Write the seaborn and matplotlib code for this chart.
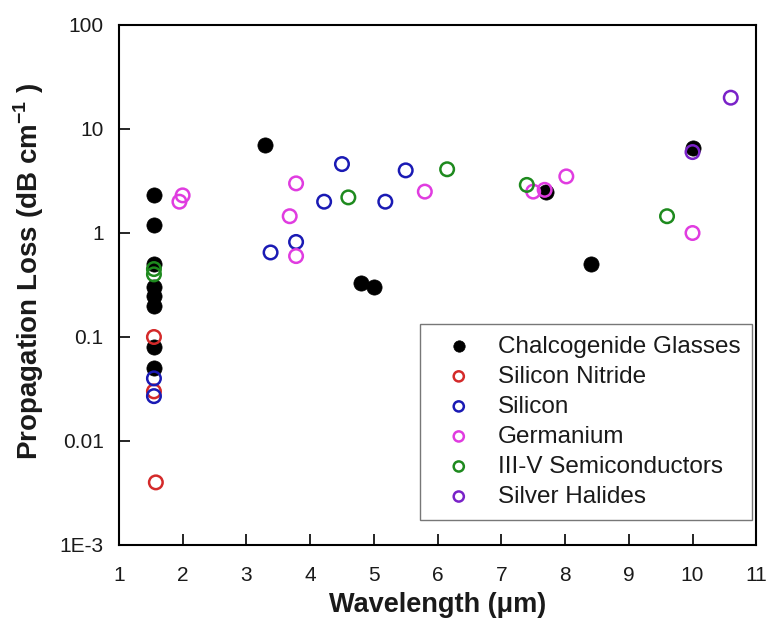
import matplotlib
matplotlib.use("Agg")
import matplotlib.pyplot as plt
import seaborn as sns
import numpy as np
import pandas as pd
from matplotlib.ticker import FixedLocator, FixedFormatter, MultipleLocator, NullLocator

sns.set_theme(style="white")
plt.rcParams['font.family'] = ['Liberation Sans', 'DejaVu Sans']
plt.rcParams['mathtext.fontset'] = 'custom'
plt.rcParams['mathtext.rm'] = 'Liberation Sans'
plt.rcParams['mathtext.bf'] = 'Liberation Sans:bold'

# ---- data ----
chalco_x = [1.55, 1.55, 1.55, 1.55, 1.55, 1.55, 1.55, 1.55, 3.3, 4.8, 5.0, 7.7, 8.4, 10.0]
chalco_y = [2.3, 1.2, 0.5, 0.3, 0.25, 0.2, 0.08, 0.05, 7.0, 0.33, 0.30, 2.5, 0.5, 6.6]

sin_x = [1.55, 1.55, 1.58]
sin_y = [0.1, 0.03, 0.004]

si_x = [1.55, 1.55, 3.38, 3.78, 4.22, 4.5, 5.18, 5.5]
si_y = [0.04, 0.027, 0.65, 0.82, 2.0, 4.6, 2.0, 4.0]

ge_x = [2.0, 1.95, 3.68, 3.78, 3.78, 5.8, 7.5, 7.68, 8.02, 10.0]
ge_y = [2.3, 2.0, 1.45, 3.0, 0.6, 2.5, 2.5, 2.6, 3.5, 1.0]

iii_x = [1.55, 1.55, 4.6, 6.15, 7.4, 9.6]
iii_y = [0.45, 0.4, 2.2, 4.1, 2.9, 1.45]

ag_x = [10.0, 10.6]
ag_y = [6.0, 20.0]

names = ["Chalcogenide Glasses", "Silicon Nitride", "Silicon", "Germanium",
         "III-V Semiconductors", "Silver Halides"]
xs = [chalco_x, sin_x, si_x, ge_x, iii_x, ag_x]
ys = [chalco_y, sin_y, si_y, ge_y, iii_y, ag_y]
colors = ["#000000", "#D42A2A", "#1A1AB4", "#E03CE0", "#1E8A1E", "#7A22C8"]

fig = plt.figure(figsize=(7.67, 6.25), dpi=100)
ax = fig.add_axes([0.155, 0.128, 0.831, 0.832])

for name, x, y, c in zip(names, xs, ys, colors):
    df = pd.DataFrame({"x": x, "y": y})
    if name == "Chalcogenide Glasses":
        sns.scatterplot(data=df, x="x", y="y", ax=ax, s=120, color=c,
                        edgecolor=c, linewidth=0.5, label=name, zorder=3)
    else:
        sns.scatterplot(data=df, x="x", y="y", ax=ax, s=95, color="none",
                        edgecolor=c, linewidth=1.8, label=name, zorder=4)

ax.set_yscale("log")
ax.set_xlim(1, 11)
ax.set_ylim(1e-3, 100)
ax.yaxis.set_major_locator(FixedLocator([1e-3, 1e-2, 1e-1, 1, 10, 100]))
ax.yaxis.set_major_formatter(FixedFormatter(["1E-3", "0.01", "0.1", "1", "10", "100"]))
ax.yaxis.set_minor_locator(NullLocator())
ax.xaxis.set_major_locator(MultipleLocator(1))
ax.xaxis.set_minor_locator(MultipleLocator(0.5))
ax.tick_params(axis="both", which="major", direction="in", length=8, width=1.2,
               labelsize=15, colors="black", labelcolor="#1a1a1a")
ax.tick_params(axis="x", which="major", pad=15)
ax.tick_params(axis="y", which="major", pad=11)
ax.tick_params(axis="x", which="minor", direction="in", length=4.5, width=1.2)
ax.tick_params(bottom=True, left=True, top=False, right=False)
for sp in ax.spines.values():
    sp.set_color("black")
    sp.set_linewidth(1.5)

ax.set_xlabel("Wavelength (μm)", fontsize=19.5, fontweight="bold", labelpad=5,
              color="#1a1a1a")
ax.set_ylabel(r"Propagation Loss (dB cm$^{\mathbf{-1}}$ )", fontsize=20,
              fontweight="bold", color="#1a1a1a")
ax.yaxis.set_label_coords(-0.114, 0.525)

leg = ax.legend(loc="lower right", fontsize=17.5, frameon=True, fancybox=False,
                edgecolor="#555555", markerscale=0.75, handletextpad=0.5,
                handlelength=2.2, labelspacing=0.33, borderpad=0.5,
                borderaxespad=0.0, bbox_to_anchor=(0.994, 0.048))
for t in leg.get_texts():
    t.set_color("#1a1a1a")
leg.get_frame().set_linewidth(1.0)

fig.savefig("out.png", dpi=100)
